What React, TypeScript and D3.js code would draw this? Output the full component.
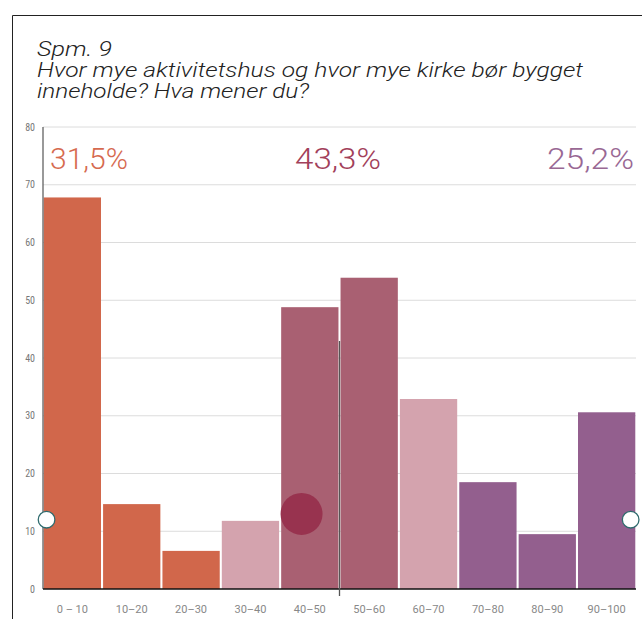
import React from "react";
import * as d3 from "d3";

const categories = ["0 – 10", "10–20", "20–30", "30–40", "40–50", "50–60", "60–70", "70–80", "80–90", "90–100"];
const values = [67.8, 14.7, 6.6, 11.8, 48.8, 53.9, 32.9, 18.5, 9.5, 30.6];
const groups = ["a", "a", "a", "b", "c", "c", "b", "d", "d", "d"];
const yTicks = [0, 10, 20, 30, 40, 50, 60, 70, 80];
const shares = ["31,5%", "43,3%", "25,2%"];
const titleLines = ["Spm. 9", "Hvor mye aktivitetshus og hvor mye kirke bør bygget", "inneholde? Hva mener du?"];
const handles = [{ pos: 0.6, val: 12 }, { pos: 99.1, val: 12 }];
const meanPoint = { pos: 43.6, val: 13 };
const dividerPos = 50;

const colors: Record<string, string> = { a: "#d1674b", b: "#d4a3ae", c: "#a96072", d: "#935f8e" };
const shareColors = ["#d66a4f", "#a2405a", "#996894"];
const titleWidths = [75, 546, 272];
const shareWidths = [78, 86, 87];

export default function App() {
  const W = 642, H = 619;
  const left = 43, right = 636, top = 127, bottom = 589;
  const y = d3.scaleLinear().domain([0, 80]).range([bottom, top]);
  const xl = d3.scaleLinear().domain([0, 100]).range([left, right]);
  const xb = d3.scaleBand().domain(categories).range([left, right]).paddingInner(0.035).paddingOuter(0.012);
  const font = "Roboto, 'Liberation Sans', sans-serif";
  const shareX = [50, 338, 634];
  const shareAnchor = ["start", "middle", "end"];
  return (
    <svg width={W} height={H} style={{ position: "absolute", left: 0, top: 0 }} fontFamily={font}>
      <rect x={0} y={0} width={W} height={H} fill="#fff" />
      <line x1={12.5} y1={15.5} x2={W} y2={15.5} stroke="#222" strokeWidth={1} />
      <line x1={12.5} y1={15.5} x2={12.5} y2={H} stroke="#222" strokeWidth={1} />
      {titleLines.map((t, i) => (
        <text key={i} x={37} y={56 + i * 21} fontSize={20.5} fontStyle="italic" fontWeight={300} fill="#222"
          textLength={titleWidths[i]} lengthAdjust="spacingAndGlyphs">{t}</text>
      ))}
      {yTicks.map((t) => (
        <g key={t}>
          {t > 0 && <line x1={left} x2={right} y1={y(t)} y2={y(t)} stroke="#dcdcdc" strokeWidth={1} />}
          <text x={35} y={y(t)} dy="0.35em" fontSize={10} textAnchor="end" fill="#777" fontFamily="'Liberation Sans Narrow', 'Roboto Condensed', Roboto, sans-serif">{t}</text>
        </g>
      ))}
      {categories.map((c, i) => (
        <rect key={c} x={xb(c)} y={y(values[i])} width={xb.bandwidth()} height={y(0) - y(values[i])} fill={colors[groups[i]]} />
      ))}
      <line x1={left} x2={left} y1={top} y2={bottom} stroke="#555" strokeWidth={1.2} />
      <line x1={left} x2={right} y1={bottom} y2={bottom} stroke="#111" strokeWidth={1.6} />
      <line x1={xl(dividerPos)} x2={xl(dividerPos)} y1={341} y2={596} stroke="#555" strokeWidth={1.3} />
      {categories.map((c) => (
        <text key={c} x={(xb(c) as number) + xb.bandwidth() / 2} y={609} dy="0.35em" fontSize={11} textAnchor="middle" fill="#888">{c}</text>
      ))}
      {shares.map((s, i) => (
        <text key={s} x={shareX[i]} y={168.5} fontSize={29.5} fontWeight={300} textAnchor={shareAnchor[i]} fill={shareColors[i]}
          textLength={shareWidths[i]} lengthAdjust="spacingAndGlyphs">{s}</text>
      ))}
      <circle cx={xl(meanPoint.pos)} cy={y(meanPoint.val)} r={21} fill="#98334f" />
      {handles.map((h, i) => (
        <circle key={i} cx={xl(h.pos)} cy={y(h.val)} r={8.3} fill="#fff" stroke="#2f6b6e" strokeWidth={1.3} />
      ))}
    </svg>
  );
}
